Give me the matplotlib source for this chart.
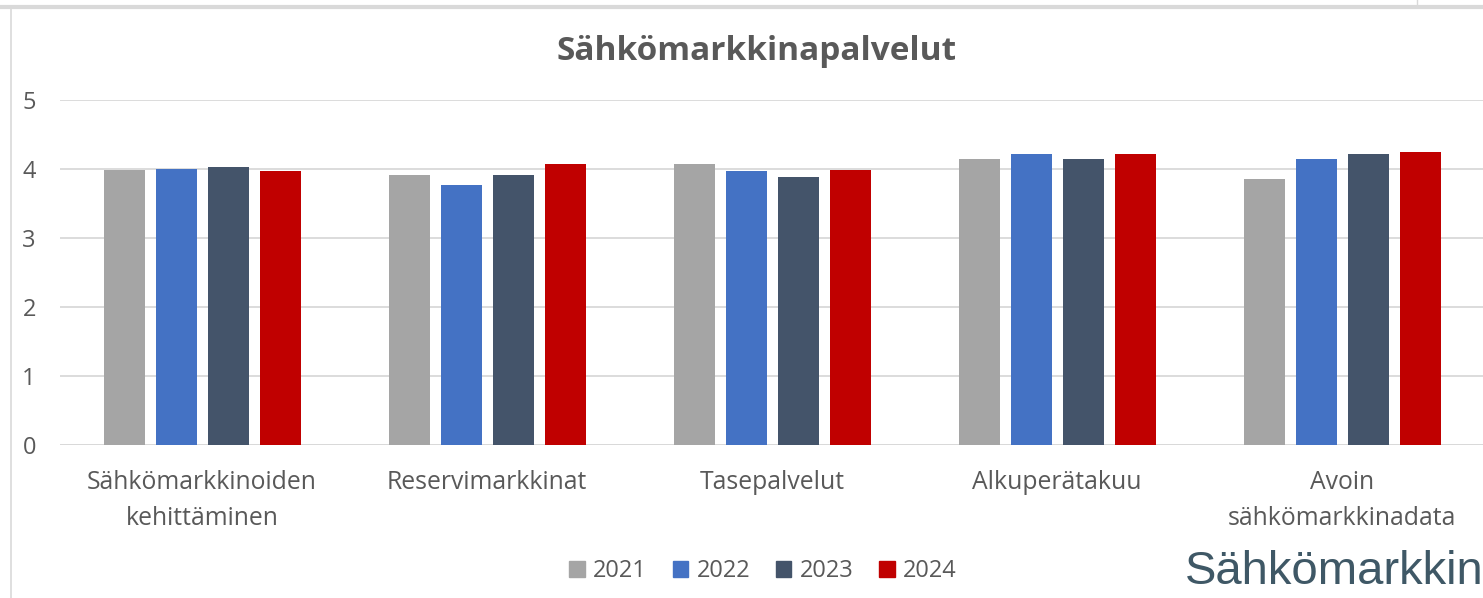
import matplotlib
matplotlib.use("Agg")
import matplotlib.pyplot as plt
from matplotlib.lines import Line2D
from matplotlib.patches import Rectangle
import numpy as np

categories = ["Sähkömarkkinoiden\nkehittäminen", "Reservimarkkinat", "Tasepalvelut",
              "Alkuperätakuu", "Avoin\nsähkömarkkinadata"]
years = ["2021", "2022", "2023", "2024"]
v2021 = [3.99, 3.92, 4.07, 4.15, 3.86]
v2022 = [4.00, 3.77, 3.97, 4.22, 4.15]
v2023 = [4.03, 3.91, 3.88, 4.15, 4.22]
v2024 = [3.97, 4.07, 3.98, 4.22, 4.24]
series = [v2021, v2022, v2023, v2024]
colors = ["#a5a5a5", "#4472c4", "#44546a", "#c00000"]
yticks = [0, 1, 2, 3, 4, 5]

W, H = 1483, 598
fig = plt.figure(figsize=(W / 100, H / 100), dpi=100)
font = ["Open Sans", "DejaVu Sans"]
txt = "#595959"
fs = 17

ax = fig.add_axes([59.5 / W, (H - 445) / H, 1425 / W, 345 / H])
x = np.arange(len(categories))
bw = 41 / 285
pitch = 52 / 285
for i, (vals, c) in enumerate(zip(series, colors)):
    ax.bar(x + (i - 1.5) * pitch, vals, width=bw, color=c, label=years[i], zorder=3)

ax.set_xlim(-0.5, len(categories) - 0.5)
ax.set_ylim(0, 5)
ax.set_yticks(yticks)
ax.set_yticklabels([str(t) for t in yticks], fontsize=fs, color=txt, family=font)
ax.grid(axis="y", color="#d9d9d9", linewidth=1.3, zorder=0)
for s in ax.spines.values():
    s.set_visible(False)
ax.tick_params(axis="both", length=0)
ax.tick_params(axis="y", pad=17)
ax.tick_params(axis="x", pad=18)
ax.set_xticks(x)
ax.set_xticklabels(categories, fontsize=17.8, color=txt, family=font, linespacing=1.6)
ax.axhline(0, color="#d9d9d9", linewidth=1.3, zorder=2)

fig.text(757 / W, 1 - 51 / H, "Sähkömarkkinapalvelut", ha="center", va="center",
         fontsize=24, fontweight="bold", color=txt, family=font)

# legend
handles = [Rectangle((0, 0), 1, 1, color=c) for c in colors]
leg = fig.legend(handles, years, loc="center", bbox_to_anchor=(763 / W, 1 - 571 / H),
                 ncol=4, frameon=False, prop={"family": font, "size": fs},
                 handlelength=0.65, handleheight=0.65, handletextpad=0.35,
                 columnspacing=1.1, labelcolor=txt)

# chart frame
fig.add_artist(Line2D([0, 1], [1 - 6.5 / H, 1 - 6.5 / H], color="#d9d9d9", linewidth=3))
fig.add_artist(Line2D([11 / W, 11 / W], [0, 1 - 6.5 / H], color="#d9d9d9", linewidth=1.2))
fig.add_artist(Line2D([1417 / W, 1417 / W], [1 - 6 / H, 1], color="#d9d9d9", linewidth=1))

fig.text(1185 / W, 1 - 584 / H, "Sähkömarkkin", ha="left", va="baseline",
         fontsize=34, color="#3f5866",
         family=["Liberation Sans", "DejaVu Sans"])

fig.savefig("out.png", dpi=100)
